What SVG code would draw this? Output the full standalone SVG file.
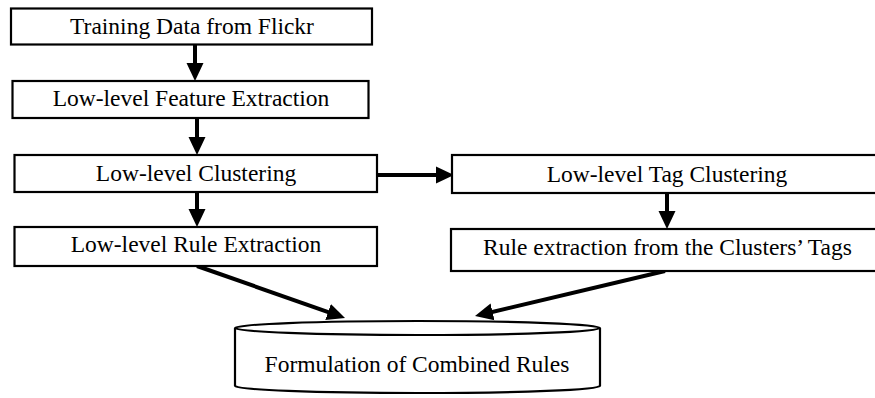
<svg xmlns="http://www.w3.org/2000/svg" width="875" height="398" viewBox="0 0 875 398">
<style>
.box{fill:#fff;stroke:#000;stroke-width:2.2}
.lbl{font-family:"Liberation Serif","Times New Roman",serif;font-size:23.5px;fill:#000;text-anchor:middle}
.edge{stroke:#000;stroke-width:4;fill:none;marker-end:url(#ah)}
</style>
<defs>
<marker id="ah" viewBox="0 0 18 18" refX="10" refY="9" markerWidth="18" markerHeight="18" markerUnits="userSpaceOnUse" orient="auto">
<path d="M0,0.5 L18,9 L0,17.5 Z" fill="#000"/>
</marker>
</defs>
<rect width="875" height="398" fill="#fff"/>
<g id="connectors">
<line class="edge" x1="195" y1="45" x2="195" y2="73"/>
<line class="edge" x1="197" y1="118" x2="197" y2="147"/>
<line class="edge" x1="197" y1="192" x2="197" y2="219"/>
<line class="edge" x1="377" y1="175" x2="446" y2="175"/>
<line class="edge" x1="667" y1="193" x2="667" y2="221"/>
<line class="edge" x1="197" y1="266" x2="337.5" y2="315.4"/>
<line class="edge" x1="665" y1="271" x2="482.8" y2="314.2"/>
</g>
<g id="n1">
<rect class="box" x="11" y="8.5" width="361" height="36"/>
<text class="lbl" x="192" y="34">Training Data from Flickr</text>
</g>
<g id="n2">
<rect class="box" x="12.5" y="81" width="356" height="37"/>
<text class="lbl" x="191" y="106">Low-level Feature Extraction</text>
</g>
<g id="n3">
<rect class="box" x="14.5" y="155" width="362.5" height="37"/>
<text class="lbl" x="196" y="181">Low-level Clustering</text>
</g>
<g id="n4">
<rect class="box" x="14.5" y="227" width="362.5" height="39"/>
<text class="lbl" x="196" y="252">Low-level Rule Extraction</text>
</g>
<g id="n5">
<rect class="box" x="452" y="155" width="430" height="38"/>
<text class="lbl" x="667" y="182">Low-level Tag Clustering</text>
</g>
<g id="n6">
<rect class="box" x="451" y="229" width="431" height="42"/>
<text class="lbl" x="667.5" y="255">Rule extraction from the Clusters’ Tags</text>
</g>
<g id="n7">
<path class="box" d="M235,328 L235,386 A182.5,7 0 0 0 600,386 L600,328"/>
<path class="box" d="M235,328 A182.5,7 0 0 1 600,328 A182.5,7 0 0 1 235,328 Z"/>
<text class="lbl" x="417" y="372">Formulation of Combined Rules</text>
</g>
</svg>
